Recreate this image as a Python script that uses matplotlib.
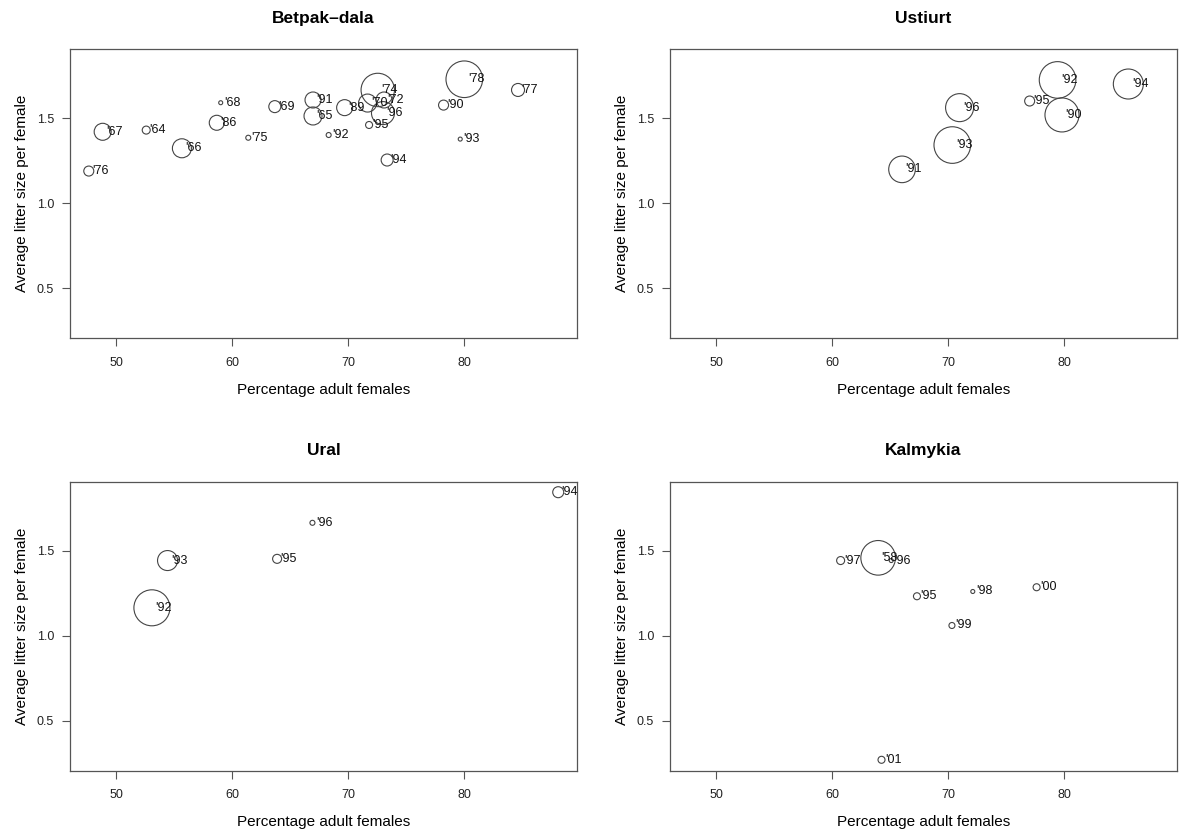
#! /usr/bin/env python
# -*- coding: utf-8 -*-

# Litter size vs percentage of adult females, four saiga populations.
# Circle radius ~ relative sample size.

import numpy as np
import matplotlib
matplotlib.use('Agg')
import matplotlib.pyplot as plt

plt.rcParams['font.family'] = ['Liberation Sans', 'DejaVu Sans']

#******************************************************************************
# Datos
#******************************************************************************

# Betpak-dala
bp_year = ["'76", "'67", "'64", "'66", "'86", "'68", "'75", "'69", "'91", "'65", "'92",
           "'89", "'70", "'95", "'74", "'96", "'72", "'94", "'90", "'93", "'78", "'77"]
bp_pct = [47.61, 48.81, 52.57, 55.65, 58.66, 59.00, 61.38, 63.67, 66.97, 66.97, 68.32,
          69.70, 71.68, 71.81, 72.56, 73.01, 73.10, 73.37, 78.24, 79.68, 80.03, 84.67]
bp_litter = [1.188, 1.419, 1.429, 1.322, 1.472, 1.590, 1.384, 1.567, 1.606, 1.512, 1.400,
             1.561, 1.588, 1.459, 1.665, 1.529, 1.606, 1.253, 1.576, 1.376, 1.728, 1.665]
bp_n = [5, 8.5, 4, 9.5, 7.5, 2, 2.5, 6, 8, 9, 2.5,
        8, 9, 3.5, 16.7, 11.5, 8, 6, 5, 2, 18.3, 6.5]

# Ustiurt
us_year = ["'91", "'93", "'96", "'95", "'92", "'90", "'94"]
us_pct = [66.02, 70.36, 70.99, 77.04, 79.45, 79.83, 85.56]
us_litter = [1.198, 1.341, 1.561, 1.600, 1.724, 1.518, 1.700]
us_n = [13.3, 18.3, 14, 5, 18.3, 17, 15]

# Ural
ur_year = ["'93", "'92", "'95", "'96", "'94"]
ur_pct = [54.41, 53.06, 63.87, 66.92, 88.14]
ur_litter = [1.441, 1.163, 1.451, 1.663, 1.843]
ur_n = [10, 18, 4.5, 2.5, 5.5]

# Kalmykia
ka_year = ["'97", "'58", "'96", "'95", "'98", "'99", "'00", "'01"]
ka_pct = [60.72, 63.96, 65.09, 67.31, 72.13, 70.33, 77.64, 64.25]
ka_litter = [1.441, 1.457, 1.441, 1.231, 1.259, 1.059, 1.284, 0.269]
ka_n = [4, 17.3, 2, 3.5, 2, 3, 3.5, 3.5]

titles = ['Betpak\u2013dala', 'Ustiurt', 'Ural', 'Kalmykia']
xticks = [50, 60, 70, 80]
yticks = [0.5, 1.0, 1.5]

panels = [(bp_year, bp_pct, bp_litter, bp_n),
          (us_year, us_pct, us_litter, us_n),
          (ur_year, ur_pct, ur_litter, ur_n),
          (ka_year, ka_pct, ka_litter, ka_n)]

# limites comunes (estilo R, 4% extra)
all_x = np.concatenate([np.array(p[1]) for p in panels])
all_y = np.concatenate([np.array(p[2]) for p in panels])
dx = 0.04 * (all_x.max() - all_x.min())
dy = 0.04 * (all_y.max() - all_y.min())
xlim = (all_x.min() - dx, all_x.max() + dx)
ylim = (all_y.min() - dy, all_y.max() + dy)

#-------------------------------------------------------------------------
#                        plots
#-------------------------------------------------------------------------
fig = plt.figure(figsize=(11.83, 8.36), dpi=100)

W, H = 1183.0, 836.0
boxes = [(70, 49), (670, 49), (70, 481.5), (670, 481.5)]
aw, ah = 507.0, 289.0
edge = '#555555'

for (px, py), (yr, x, y, n), tit in zip(boxes, panels, titles):
    ax = fig.add_axes([px / W, 1 - (py + ah) / H, aw / W, ah / H])
    s = (2 * np.array(n) * 0.72) ** 2
    ax.scatter(x, y, s=s, facecolors='none', edgecolors='#444444', linewidths=0.8)
    for lab, xi, yi in zip(yr, x, y):
        ax.annotate(lab, (xi, yi), xytext=(2.5, 0), textcoords='offset points',
                    ha='left', va='center', fontsize=9, color='#111111')
    ax.set_xlim(xlim)
    ax.set_ylim(ylim)
    ax.set_xticks(xticks)
    ax.set_yticks(yticks)
    ax.set_yticklabels(['0.5', '1.0', '1.5'])
    ax.tick_params(axis='both', direction='out', length=5.5, width=0.8,
                   color=edge, labelsize=9, labelcolor='#222222')
    ax.tick_params(axis='x', pad=8)
    ax.tick_params(axis='y', pad=6)
    for sp in ax.spines.values():
        sp.set_color(edge)
        sp.set_linewidth(0.9)
    ax.set_title(tit, fontsize=12.5, fontweight='bold', pad=19)
    ax.set_xlabel('Percentage adult females', fontsize=11)
    ax.set_ylabel('Average litter size per female', fontsize=11)
    ax.xaxis.set_label_coords(0.5, -0.155)
    ax.yaxis.set_label_coords(-0.08, 0.5)

fig.savefig('out.png', dpi=100)
